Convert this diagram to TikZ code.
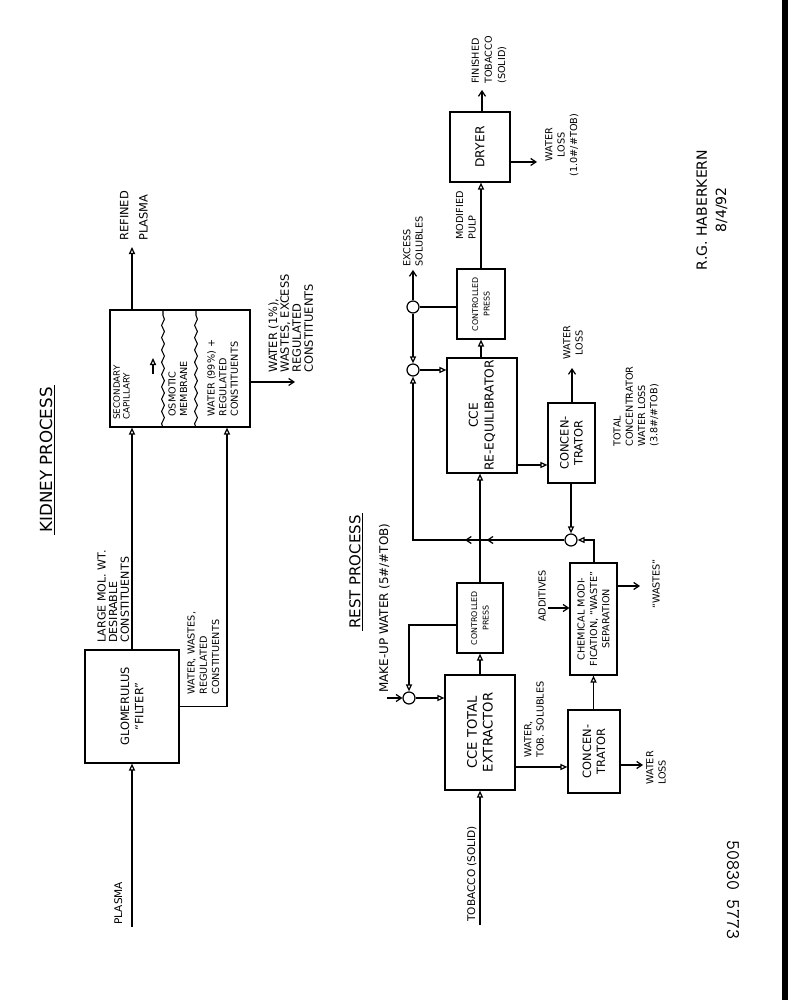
\documentclass[tikz,border=0pt]{standalone}
\usepackage{fontspec}
\setmainfont{DejaVu Sans}
\usetikzlibrary{arrows.meta,positioning,decorations.pathmorphing,decorations.markings}

\tikzset{
  blk/.style={draw, line width=0.7pt, align=center, inner sep=1pt,
              font=\fontsize{6.5}{8}\selectfont},
  lbl/.style={inner sep=0pt, align=left, font=\fontsize{5.5}{7}\selectfont},
  flow/.style={line width=0.7pt, -{Triangle[open,length=4pt,width=3.5pt]}},
  barb/.style={line width=0.7pt, -{Straight Barb[length=3pt,width=4pt]}},
  mix/.style={draw, circle, line width=0.7pt, minimum size=0.24cm, inner sep=0pt},
  memb/.style={line width=0.6pt, decorate,
               decoration={snake, amplitude=0.8pt, segment length=7pt}},
}

\begin{document}
\begin{tikzpicture}[x=0.02cm, y=0.02cm, rotate=90, transform shape]
  \useasboundingbox (0,0) rectangle (1000,-788);
  \fill (0,-782) rectangle (1000,-788);

  %% ---- kidney process ----
  \node[font=\fontsize{9.5}{9.5}\selectfont, inner sep=1pt] (ktitle) at (540,-46) {KIDNEY PROCESS};
  \draw[line width=0.6pt] (ktitle.south west) -- (ktitle.south east);

  \node[blk, minimum width=2.26cm, minimum height=1.88cm] (glom) at (293.5,-132) {GLOMERULUS\\``FILTER''};
  \node[blk, minimum width=2.34cm, minimum height=2.80cm] (sec) at (631.5,-180) {};

  \node[lbl, anchor=north west, font=\fontsize{5}{5.6}\selectfont] (seccap) at (580,-113) {SECONDARY\\CAPILLARY};
  \draw[memb] (sec.west |- 0,-163) -- (sec.east |- 0,-163);
  \node[lbl, anchor=north west, font=\fontsize{5.5}{6.6}\selectfont] (osm) at (583,-168) {OSMOTIC\\MEMBRANE};
  \draw[memb] (sec.west |- 0,-196) -- (sec.east |- 0,-196);
  \node[lbl, anchor=north west, font=\fontsize{5.5}{6.6}\selectfont] (wat99) at (583,-207) {WATER (99\%) +\\REGULATED\\CONSTITUENTS};
  \coordinate (capa) at (626,-153);
  \coordinate (capb) at (642,-153);
  \draw[flow] (capa) -- (capb);

  \coordinate (plasma) at (73,-132);
  \draw[flow] (plasma) -- (glom.west);
  \node[lbl, anchor=base west, font=\fontsize{6}{7}\selectfont] (plasmalbl) at (75,-122) {PLASMA};

  \draw[flow] (glom.east) -- (sec.west |- glom.east);
  \node[lbl, anchor=north west, font=\fontsize{6.3}{6.6}\selectfont] (lmw) at (357,-97) {LARGE MOL. WT.\\DESIRABLE\\CONSTITUENTS};

  \coordinate (ww) at (293.5,-227);
  \draw[flow] (glom.south) -- (ww) -- (sec.west |- ww);
  \node[lbl, anchor=north west] (wwlbl) at (305,-187) {WATER, WASTES,\\REGULATED\\CONSTITUENTS};

  \coordinate (refout) at (753,-132);
  \draw[flow] (sec.east |- refout) -- (refout);
  \node[lbl, anchor=west, font=\fontsize{6.5}{11}\selectfont] (reflbl) at (759,-134) {REFINED\\PLASMA};

  \coordinate (w1) at (618,-295);
  \draw[barb] (sec.south -| w1) -- (w1);
  \node[lbl, anchor=north west, font=\fontsize{6.5}{6.8}\selectfont] (w1lbl) at (627,-268) {WATER (1\%),\\WASTES, EXCESS\\REGULATED\\CONSTITUENTS};

  %% ---- rest process ----
  \node[font=\fontsize{8.5}{8.5}\selectfont, inner sep=1pt] (rtitle) at (428,-355) {REST PROCESS};
  \draw[line width=0.6pt] (rtitle.south west) -- (rtitle.south east);

  \node[blk, minimum width=2.30cm, minimum height=1.40cm, font=\fontsize{7.5}{9}\selectfont] (cce) at (267.5,-480) {CCE TOTAL\\EXTRACTOR};
  \node[blk, minimum width=1.40cm, minimum height=0.92cm, font=\fontsize{4.5}{6.5}\selectfont] (press1) at (382,-480) {CONTROLLED\\PRESS};
  \node[blk, minimum width=2.30cm, minimum height=1.40cm, font=\fontsize{7}{9}\selectfont] (reeq) at (584.5,-482) {CCE\\RE-EQUILIBRATOR};
  \node[blk, minimum width=1.40cm, minimum height=0.96cm, font=\fontsize{4.5}{6.5}\selectfont] (press2) at (696,-481) {CONTROLLED\\PRESS};
  \node[blk, minimum width=1.40cm, minimum height=1.20cm, font=\fontsize{7}{9}\selectfont] (dryer) at (853,-480) {DRYER};
  \node[blk, minimum width=1.66cm, minimum height=1.04cm] (conc1) at (248.5,-594) {CONCEN-\\TRATOR};
  \node[blk, minimum width=2.24cm, minimum height=0.94cm, font=\fontsize{5.5}{7}\selectfont] (chem) at (381,-593.5) {CHEMICAL MODI-\\FICATION, ``WASTE''\\SEPARATION};
  \node[blk, minimum width=1.60cm, minimum height=0.94cm] (conc2) at (557,-571.5) {CONCEN-\\TRATOR};

  \node[mix] (mixa) at (302,-409) {};
  \node[mix] (mixb) at (460,-571) {};
  \node[mix] (mixc) at (630,-413) {};
  \node[mix] (mixd) at (693,-413) {};

  \coordinate (tob) at (75,-480);
  \draw[flow] (tob) -- (cce.west);
  \node[lbl, anchor=base west, font=\fontsize{6}{7}\selectfont] (toblbl) at (78,-475) {TOBACCO (SOLID)};

  \coordinate (mkup) at (302,-387);
  \draw[barb] (mkup) -- (mixa.north);
  \node[lbl, anchor=base west, font=\fontsize{6.8}{7}\selectfont] (mkuplbl) at (307,-388) {MAKE-UP WATER (5\#/\#TOB)};

  \coordinate (rca) at (375,-409);
  \draw[flow] (press1.north -| rca) -- (rca) -- (mixa.east);
  \draw[flow] (mixa.south) -- (cce.north -| mixa);
  \draw[flow] (cce.east) -- (press1.west);
  \draw[flow] (press1.east) -- (reeq.west |- press1.east);
  \draw[flow] (reeq.east |- press2) -- (press2.west);
  \draw[flow] (press2.east) -- (dryer.west |- press2.east);
  \node[lbl, anchor=south west] (mplbl) at (760,-476) {MODIFIED\\PULP};

  \draw[line width=0.7pt] (press2.north -| mixd) -- (mixd.south);
  \coordinate (exs) at (730,-413);
  \draw[barb] (mixd.east) -- (exs);
  \node[lbl, anchor=west] (exslbl) at (733,-413) {EXCESS\\SOLUBLES};
  \draw[flow] (mixd.west) -- (mixc.east);
  \draw[flow] (mixc.south) -- (reeq.north -| mixc);
  \draw[flow, postaction={decorate}, decoration={markings,
      mark=at position 0.247 with {\arrow{Straight Barb[length=3pt,width=4pt]}},
      mark=at position 0.316 with {\arrow{Straight Barb[length=3pt,width=4pt]}}}]
    (mixb.north) -- (mixb |- mixc) -- (mixc.west);

  \coordinate (tapa) at (535,-540);
  \draw[flow] (reeq.south -| tapa) -- (conc2.north -| tapa);
  \coordinate (wl2) at (632,-572);
  \draw[barb] (conc2.east |- wl2) -- (wl2);
  \node[lbl, anchor=west, align=center] (wl2lbl) at (640,-573) {WATER\\LOSS};
  \draw[flow] (conc2.west |- mixb) -- (mixb.east);
  \coordinate (chemout) at (460,-594);
  \draw[flow] (chem.east |- chemout) -- (chemout) -- (mixb.south);
  \node[lbl, anchor=north west] (tcl) at (553,-613) {TOTAL\\CONCENTRATOR\\WATER LOSS\\(3.8\#/\#TOB)};

  \coordinate (tapb) at (233,-540);
  \draw[flow] (cce.south -| tapb) -- (conc1.north -| tapb);
  \node[lbl, anchor=north west] (wtslbl) at (242,-524) {WATER,\\TOB. SOLUBLES};
  \draw[flow] (conc1.east |- chem) -- (chem.west);
  \coordinate (wl1) at (235,-643);
  \draw[barb] (conc1.south -| wl1) -- (wl1);
  \node[lbl, anchor=north] (wl1lbl) at (232,-646) {WATER\\LOSS};
  \coordinate (addin) at (392,-548);
  \draw[barb] (addin) -- (chem.north -| addin);
  \node[lbl] (addlbl) at (404,-542) {ADDITIVES};
  \coordinate (wst) at (414,-640);
  \draw[barb] (chem.south -| wst) -- (wst);
  \node[lbl, anchor=north] (wstlbl) at (416,-652) {``WASTES''};

  \coordinate (fin) at (910,-482);
  \draw[barb] (dryer.east |- fin) -- (fin);
  \node[lbl, anchor=west, font=\fontsize{5.5}{7.5}\selectfont] (finlbl) at (916,-489) {FINISHED\\TOBACCO\\(SOLID)};
  \coordinate (wl3) at (838,-537);
  \draw[barb] (dryer.south -| wl3) -- (wl3);
  \node[lbl, anchor=north, align=center] (wl3lbl) at (855,-545) {WATER\\LOSS\\(1.0\#/\#TOB)};

  %% ---- signature ----
  \node[lbl, align=center, font=\fontsize{8}{11}\selectfont] (sign) at (790,-712) {R.G. HABERKERN\\8/4/92};
  \node[font=\ttfamily\fontsize{11}{11}\selectfont, rotate=180] (stamp) at (110,-733) {50830 5773};
\end{tikzpicture}
\end{document}
